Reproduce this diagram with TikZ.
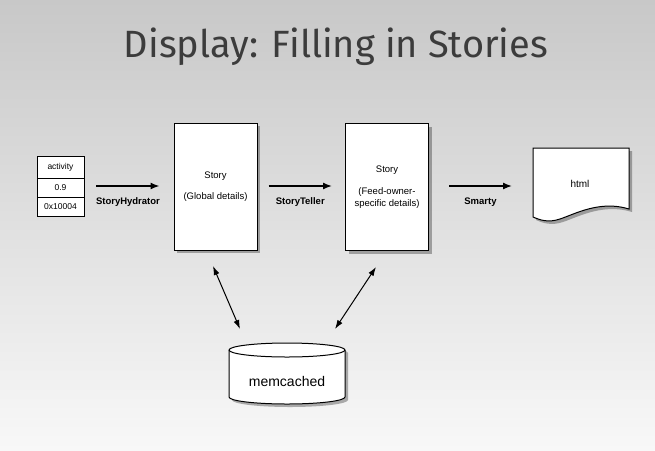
\documentclass[tikz,border=0pt]{standalone}
\usepackage{fontspec}
\setmainfont{Liberation Sans}
\newfontfamily\titlefont{Fira Sans}
\usetikzlibrary{arrows.meta,shadows,calc}
\definecolor{bgtop}{RGB}{200,200,200}
\definecolor{bgbot}{RGB}{248,248,248}
\definecolor{titlegray}{RGB}{60,60,60}
\tikzset{
  shad/.style={drop shadow={shadow xshift=3pt,shadow yshift=-3pt,fill=black,opacity=0.3}},
  storybox/.style={draw=black,line width=1pt,fill=white,shad,minimum width=83pt,minimum height=127pt,inner sep=0pt,align=center,font=\fontsize{9.5}{12}\selectfont},
  cell/.style={draw=black,line width=0.8pt,fill=white,minimum width=47pt,inner sep=0pt,font=\fontsize{8.5}{10}\selectfont},
  arr/.style={line width=1.4pt,-{Latex[length=9pt,width=7pt]}},
  dbl/.style={line width=1pt,{Latex[length=9pt,width=6pt]}-{Latex[length=9pt,width=6pt]}},
  lab/.style={font=\fontsize{9.5}{11}\selectfont\bfseries,inner sep=0pt}
}
\begin{document}
\begin{tikzpicture}[x=1pt,y=-1pt]
\useasboundingbox (0,0) rectangle (655,450);
\shade[top color=bgtop,bottom color=bgbot] (0,0) rectangle (655,450);
\node[anchor=base,text=titlegray,font=\titlefont\fontsize{38}{42}\selectfont,inner sep=0pt] (title) at (336,57) {Display: Filling in Stories};

% table
\node[cell,minimum height=22pt] (act) at (60.5,167) {activity};
\node[cell,minimum height=19pt] (val) at (60.5,187.5) {0.9};
\node[cell,minimum height=19pt] (addr) at (60.5,206.5) {0x10004};

% story boxes
\node[storybox] (s1) at (215.5,186.5) {Story\\[9pt](Global details)};
\node[storybox] (s2) at (387,187) {Story\\[10pt](Feed-owner-\\specific details)};

% html document
\draw[line width=1pt,fill=white,shad] (533,148) -- (629,148) -- (629,209)
  .. controls (600,200) and (575,214) .. (560,219)
  .. controls (548,223) and (540,220) .. (533,217) -- cycle;
\node[font=\fontsize{10}{11}\selectfont,inner sep=0pt] (html) at (580,184) {html};
\coordinate (htmlw) at (533,186);

% memcached cylinder
\draw[line width=1pt,fill=white,shad] (229,350) -- (229,397)
  arc[start angle=180,end angle=360,x radius=58pt,y radius=7pt] -- (345,350)
  arc[start angle=0,end angle=180,x radius=58pt,y radius=7pt] -- cycle;
\draw[line width=1pt] (229,350) arc[start angle=180,end angle=360,x radius=58pt,y radius=7pt];
\node[font=\fontsize{14}{16}\selectfont,inner sep=0pt] (mem) at (287,381) {memcached};

% flow arrows
\draw[arr] ([xshift=12pt]val.east |- 0,186) coordinate (a1s) -- ([xshift=-14pt]s1.west |- 0,186) coordinate (a1e);
\node[lab] (l1) at ($(a1s)!0.5!(a1e)+(0,16)$) {StoryHydrator};
\draw[arr] ([xshift=11pt]s1.east |- 0,186) coordinate (a2s) -- ([xshift=-13pt]s2.west |- 0,186) coordinate (a2e);
\node[lab] (l2) at ($(a2s)!0.5!(a2e)+(0,16)$) {StoryTeller};
\draw[arr] ([xshift=20pt]s2.east |- 0,186) coordinate (a3s) -- ([xshift=-21pt]htmlw) coordinate (a3e);
\node[lab] (l3) at ($(a3s)!0.5!(a3e)+(0,16)$) {Smarty};

% cache arrows
\coordinate (c1a) at (213,266);
\coordinate (c1b) at (240,329);
\coordinate (c2a) at (376,267);
\coordinate (c2b) at (335,329);
\draw[dbl] (c1a) -- (c1b);
\draw[dbl] (c2a) -- (c2b);
\end{tikzpicture}
\end{document}
